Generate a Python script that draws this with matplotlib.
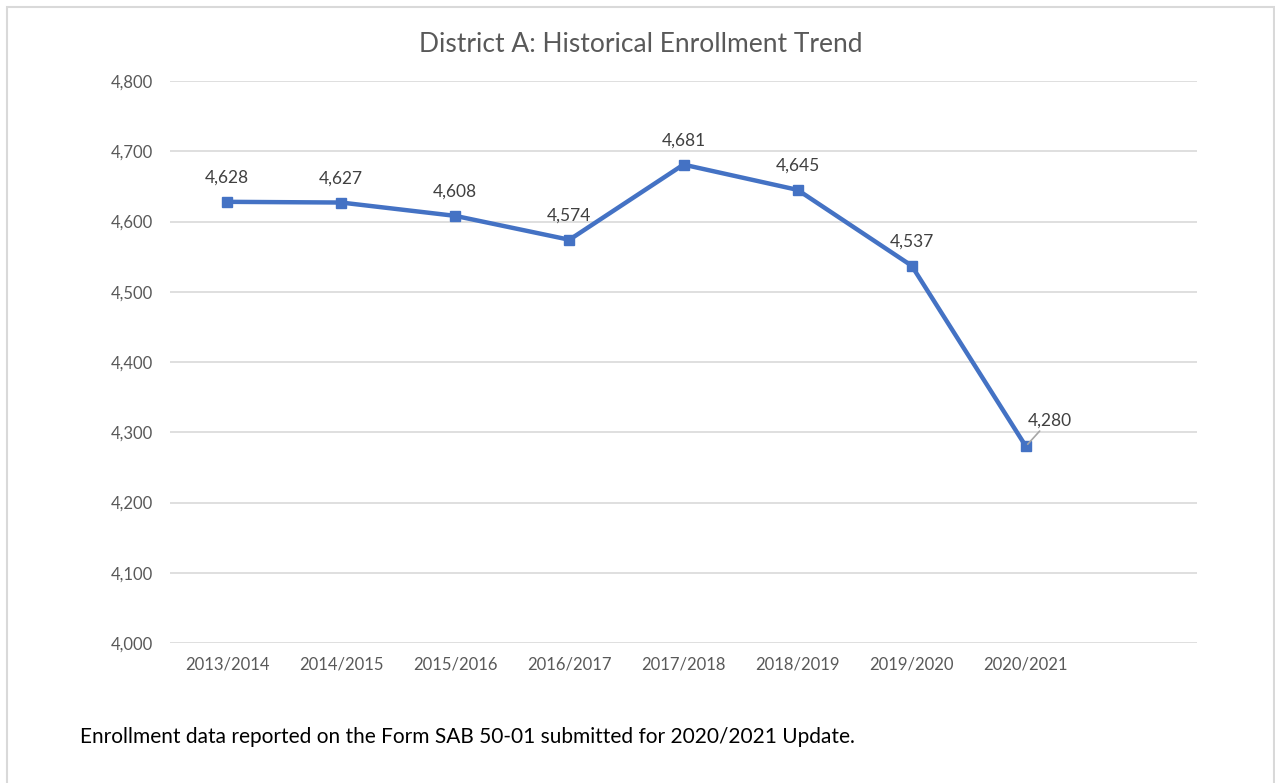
import matplotlib.pyplot as plt
from matplotlib.patches import Rectangle

# enrollment data
years = ["2013/2014", "2014/2015", "2015/2016", "2016/2017",
         "2017/2018", "2018/2019", "2019/2020", "2020/2021"]
enrollment = [4628, 4627, 4608, 4574, 4681, 4645, 4537, 4280]
y_ticks = [4000, 4100, 4200, 4300, 4400, 4500, 4600, 4700, 4800]

plt.rcParams["font.family"] = ["Lato", "DejaVu Sans"]

fig = plt.figure(figsize=(12.75, 7.83), dpi=100)
ax = fig.add_axes([170 / 1275, 1 - 643 / 783, (1197 - 170) / 1275, (643 - 81) / 783])

x = list(range(len(years)))
ax.plot(x, enrollment, color="#4472C4", linewidth=3.2, marker="s",
        markersize=7.5, zorder=3)

# data labels
for i, v in enumerate(enrollment[:-1]):
    ax.annotate(f"{v:,}", (i, v), xytext=(0, 11.5), textcoords="offset points",
                ha="center", va="bottom", fontsize=12.5, color="#404040")
ax.annotate(f"{enrollment[-1]:,}", (x[-1], enrollment[-1]), xytext=(17, 13),
            textcoords="offset points", ha="center", va="bottom",
            fontsize=12.5, color="#404040",
            arrowprops=dict(arrowstyle="-", color="#A6A6A6", lw=1.2,
                            shrinkA=0, shrinkB=2))

ax.set_xlim(-0.5, len(years) + 0.5)
ax.set_ylim(4000, 4800)
ax.set_xticks(x)
ax.set_xticklabels(years)
ax.set_yticks(y_ticks)
ax.set_yticklabels([f"{t:,}" for t in y_ticks])
ax.tick_params(length=0, labelsize=12, labelcolor="#595959")
ax.tick_params(axis="x", pad=10)
ax.tick_params(axis="y", pad=12)
ax.grid(axis="y", color="#D9D9D9", linewidth=1.2)
ax.set_axisbelow(True)
for s in ax.spines.values():
    s.set_visible(False)

fig.text(641 / 1275, 1 - 44 / 783, "District A: Historical Enrollment Trend",
         ha="center", va="center", fontsize=19, color="#595959")
fig.text(80 / 1275, 1 - 737 / 783,
         "Enrollment data reported on the Form SAB 50-01 submitted for 2020/2021 Update.",
         ha="left", va="center", fontsize=15, color="#000000")

# outer border
fig.patches.append(Rectangle((7 / 1275, -0.02), (1274 - 7) / 1275, 1.02 - 7 / 783,
                             transform=fig.transFigure, fill=False,
                             edgecolor="#D9D9D9", linewidth=1.5))

fig.savefig("out.png", dpi=100)
